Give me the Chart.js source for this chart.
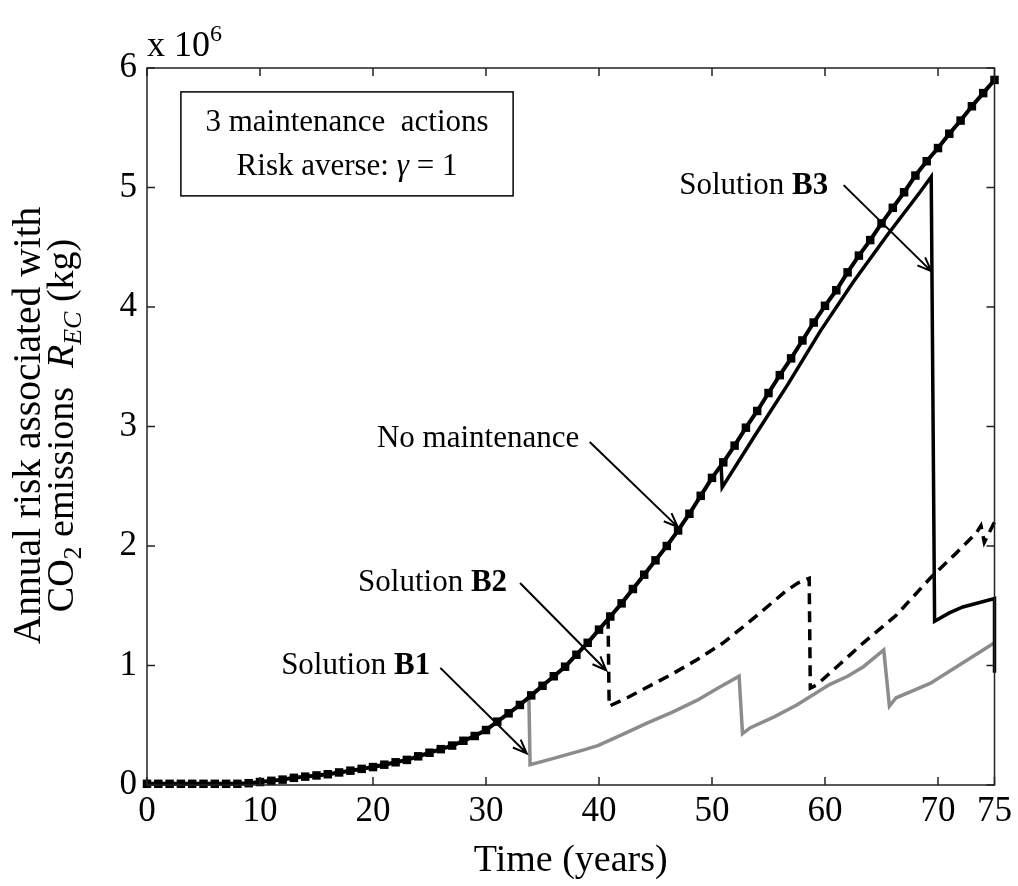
<!DOCTYPE html>
<html>
<head>
<meta charset="utf-8">
<script src="https://cdn.jsdelivr.net/npm/chart.js@4.4.1/dist/chart.umd.min.js"></script>
<style>
    html, body { margin: 0; padding: 0; background: #fff; }
</style>
</head>
<body>
<canvas id="risk-chart" width="1018" height="886"></canvas>
<script>
const X_TICKS = [0, 10, 20, 30, 40, 50, 60, 70, 75]

// no maintenance, one value per year 0..75 (x 10^6 kg)
const years = Array.from({ length: 76 }, (_, i) => i)
const noMaintenance = [
    0.01, 0.01, 0.01, 0.01, 0.01, 0.01, 0.01, 0.01, 0.01, 0.015,
    0.025, 0.035, 0.045, 0.06, 0.07, 0.08, 0.09, 0.105, 0.12, 0.135,
    0.15, 0.17, 0.19, 0.21, 0.24, 0.27, 0.30, 0.33, 0.37, 0.41,
    0.46, 0.53, 0.60, 0.67, 0.75, 0.83, 0.91, 0.99, 1.09, 1.19,
    1.30, 1.41, 1.52, 1.64, 1.76, 1.88, 2.00, 2.13, 2.27, 2.42,
    2.57, 2.70, 2.84, 2.99, 3.13, 3.28, 3.43, 3.57, 3.72, 3.87,
    4.01, 4.14, 4.29, 4.43, 4.56, 4.70, 4.83, 4.96, 5.10, 5.22,
    5.33, 5.45, 5.56, 5.68, 5.79, 5.90
]

// the solutions follow "no maintenance" until their first action
const solutionB1 = [
    [33.8, 0.72], [33.9, 0.17], [35.5, 0.21], [37, 0.25], [38.5, 0.29], [39.9, 0.33],
    [42, 0.42], [44.3, 0.52], [46.5, 0.61], [48.7, 0.71], [50.5, 0.81], [52.4, 0.91],
    [52.7, 0.43], [53.4, 0.48], [55.5, 0.57], [57.5, 0.67], [60.4, 0.84], [62, 0.91],
    [63.4, 0.99], [65.2, 1.13], [65.7, 0.66], [66.3, 0.73], [67.8, 0.79], [69.3, 0.85],
    [72, 1.01], [75, 1.19]
]
const solutionB2 = [
    [40.8, 1.40], [40.9, 0.66], [42.5, 0.73], [44.3, 0.82], [46.5, 0.93], [48.7, 1.05],
    [51, 1.19], [53.1, 1.35], [55, 1.50], [56.5, 1.62], [57.6, 1.69], [58.6, 1.73],
    [58.7, 0.81], [59.3, 0.84], [61.3, 1.01], [63.4, 1.19], [66.3, 1.42], [69.3, 1.73],
    [71.5, 1.93], [73.4, 2.11], [73.8, 2.17], [74.1, 2.03], [75, 2.2]
]
const solutionB3 = [
    [50.8, 2.69], [50.9, 2.49], [53.7, 2.91], [56.7, 3.35], [59.6, 3.80], [62.5, 4.21],
    [65.5, 4.60], [68.4, 4.96], [69.4, 5.09], [69.7, 1.37], [71, 1.44], [72.2, 1.49],
    [75, 1.56], [75, 0.94]
]

const SERIF = "'Liberation Serif', 'Times New Roman', serif"
Chart.defaults.font.family = SERIF
Chart.defaults.color = '#000'

const toPoints = pairs => pairs.map(([x, y]) => ({ x, y }))

// text made of pieces: { t, size, bold, italic, dy }
function drawRich(ctx, pieces, x, y, align) {
    const fontOf = p => `${p.italic ? 'italic ' : ''}${p.bold ? 'bold ' : ''}${p.size}px ${SERIF}`
    let total = 0
    pieces.forEach(p => {
        ctx.font = fontOf(p)
        p.w = ctx.measureText(p.t).width
        total += p.w
    })
    let cx = align === 'center' ? x - total / 2 : x
    pieces.forEach(p => {
        ctx.font = fontOf(p)
        ctx.fillText(p.t, cx, y + (p.dy || 0))
        cx += p.w
    })
}

function arrow(ctx, x1, y1, x2, y2) {
    const ang = Math.atan2(y2 - y1, x2 - x1)
    const head = 15
    ctx.beginPath()
    ctx.moveTo(x1, y1)
    ctx.lineTo(x2, y2)
    ctx.moveTo(x2 - head * Math.cos(ang - 0.38), y2 - head * Math.sin(ang - 0.38))
    ctx.lineTo(x2, y2)
    ctx.lineTo(x2 - head * Math.cos(ang + 0.38), y2 - head * Math.sin(ang + 0.38))
    ctx.stroke()
}

const annotations = {
    id: 'annotations',
    afterDatasetsDraw(chart) {
        const { ctx, scales: { x, y } } = chart
        const px = v => x.getPixelForValue(v)
        const py = v => y.getPixelForValue(v)
        ctx.save()
        ctx.fillStyle = '#000'
        ctx.strokeStyle = '#000'
        ctx.textBaseline = 'middle'

        // info box
        ctx.lineWidth = 1.5
        ctx.fillStyle = '#fff'
        ctx.fillRect(px(3.0), py(5.80), px(32.4) - px(3.0), py(4.93) - py(5.80))
        ctx.strokeRect(px(3.0), py(5.80), px(32.4) - px(3.0), py(4.93) - py(5.80))
        ctx.fillStyle = '#000'
        drawRich(ctx, [{ t: '3 maintenance  actions', size: 31 }], px(17.7), py(5.54), 'center')
        drawRich(ctx, [
            { t: 'Risk averse: ', size: 31 },
            { t: 'γ', size: 31, italic: true },
            { t: ' = 1', size: 31 }
        ], px(17.7), py(5.17), 'center')

        // labels with arrows
        ctx.lineWidth = 2
        const labels = [
            { name: 'Solution ', bold: 'B3', at: [47.1, 5.01], from: [61.65, 5.02], to: [69.4, 4.30] },
            { name: 'No maintenance', bold: '', at: [20.35, 2.90], from: [39.18, 2.87], to: [46.96, 2.16] },
            { name: 'Solution ', bold: 'B2', at: [18.68, 1.69], from: [33.01, 1.69], to: [40.64, 0.96] },
            { name: 'Solution ', bold: 'B1', at: [11.87, 1.0], from: [25.96, 0.98], to: [33.6, 0.265] }
        ]
        labels.forEach(l => {
            drawRich(ctx, [
                { t: l.name, size: 31 },
                { t: l.bold, size: 31, bold: true }
            ], px(l.at[0]), py(l.at[1]), 'left')
            arrow(ctx, px(l.from[0]), py(l.from[1]), px(l.to[0]), py(l.to[1]))
        })
        ctx.restore()
    },
    afterDraw(chart) {
        const { ctx, chartArea: a, scales: { x, y } } = chart
        ctx.save()
        ctx.strokeStyle = '#222'
        ctx.lineWidth = 1.5
        ctx.strokeRect(a.left, a.top, a.right - a.left, a.bottom - a.top)

        // inward ticks on all four sides
        const len = 8
        ctx.beginPath()
        X_TICKS.forEach(v => {
            const p = x.getPixelForValue(v)
            ctx.moveTo(p, a.bottom); ctx.lineTo(p, a.bottom - len)
            ctx.moveTo(p, a.top); ctx.lineTo(p, a.top + len)
        })
        y.ticks.forEach(t => {
            const p = y.getPixelForValue(t.value)
            ctx.moveTo(a.left, p); ctx.lineTo(a.left + len, p)
            ctx.moveTo(a.right, p); ctx.lineTo(a.right - len, p)
        })
        ctx.stroke()

        // exponent over the y axis
        ctx.fillStyle = '#000'
        ctx.textBaseline = 'alphabetic'
        drawRich(ctx, [
            { t: 'x 10', size: 36 },
            { t: '6', size: 24, dy: -15 }
        ], a.left, 56, 'left')

        // y axis title, two lines, rotated
        const mid = (a.top + a.bottom) / 2 - 1
        ctx.translate(40, mid)
        ctx.rotate(-Math.PI / 2)
        drawRich(ctx, [{ t: 'Annual risk associated with', size: 39.5 }], 0, 0, 'center')
        ctx.translate(0, 33)
        drawRich(ctx, [
            { t: 'CO', size: 38 },
            { t: '2', size: 26, dy: 8 },
            { t: ' emissions  ', size: 38 },
            { t: 'R', size: 38, italic: true },
            { t: 'EC', size: 26, italic: true, dy: 8 },
            { t: ' (kg)', size: 38 }
        ], 0, 0, 'center')
        ctx.restore()
    }
}

new Chart(document.querySelector('#risk-chart'), {
    type: 'line',
    data: {
        datasets: [
            {
                label: 'No maintenance',
                data: years.map((t, i) => ({ x: t, y: noMaintenance[i] })),
                borderColor: '#000',
                backgroundColor: '#000',
                borderWidth: 4,
                pointStyle: 'rect',
                pointRadius: 6,
                pointBorderWidth: 0,
                clip: false
            },
            {
                label: 'Solution B3',
                data: toPoints(solutionB3),
                borderColor: '#000',
                borderWidth: 3.5,
                pointRadius: 0,
                clip: false
            },
            {
                label: 'Solution B2',
                data: toPoints(solutionB2),
                borderColor: '#000',
                borderWidth: 3.5,
                borderDash: [11, 7],
                pointRadius: 0,
                clip: false
            },
            {
                label: 'Solution B1',
                data: toPoints(solutionB1),
                borderColor: '#8c8c8c',
                borderWidth: 3.5,
                pointRadius: 0,
                clip: false
            }
        ]
    },
    options: {
        responsive: false,
        animation: false,
        devicePixelRatio: 1,
        layout: { padding: { top: 68, right: 20, left: 0, bottom: 0 } },
        plugins: {
            legend: { display: false },
            tooltip: { enabled: false }
        },
        elements: { line: { tension: 0 } },
        scales: {
            x: {
                type: 'linear',
                min: 0,
                max: 75,
                afterBuildTicks: scale => {
                    scale.ticks = X_TICKS.map(value => ({ value }))
                },
                afterFit: scale => { scale.height = 101 },
                ticks: {
                    autoSkip: false,
                    maxRotation: 0,
                    padding: 6,
                    font: { size: 35 }
                },
                grid: { display: false, drawTicks: false },
                border: { display: false },
                title: {
                    display: true,
                    text: 'Time (years)',
                    font: { size: 38 },
                    padding: { top: 0, bottom: 2 }
                }
            },
            y: {
                min: 0,
                max: 6,
                afterFit: scale => { scale.width = 147 },
                ticks: {
                    stepSize: 1,
                    padding: 10,
                    font: { size: 35 }
                },
                grid: { display: false, drawTicks: false },
                border: { display: false }
            }
        }
    },
    plugins: [annotations]
})
</script>
</body>
</html>
